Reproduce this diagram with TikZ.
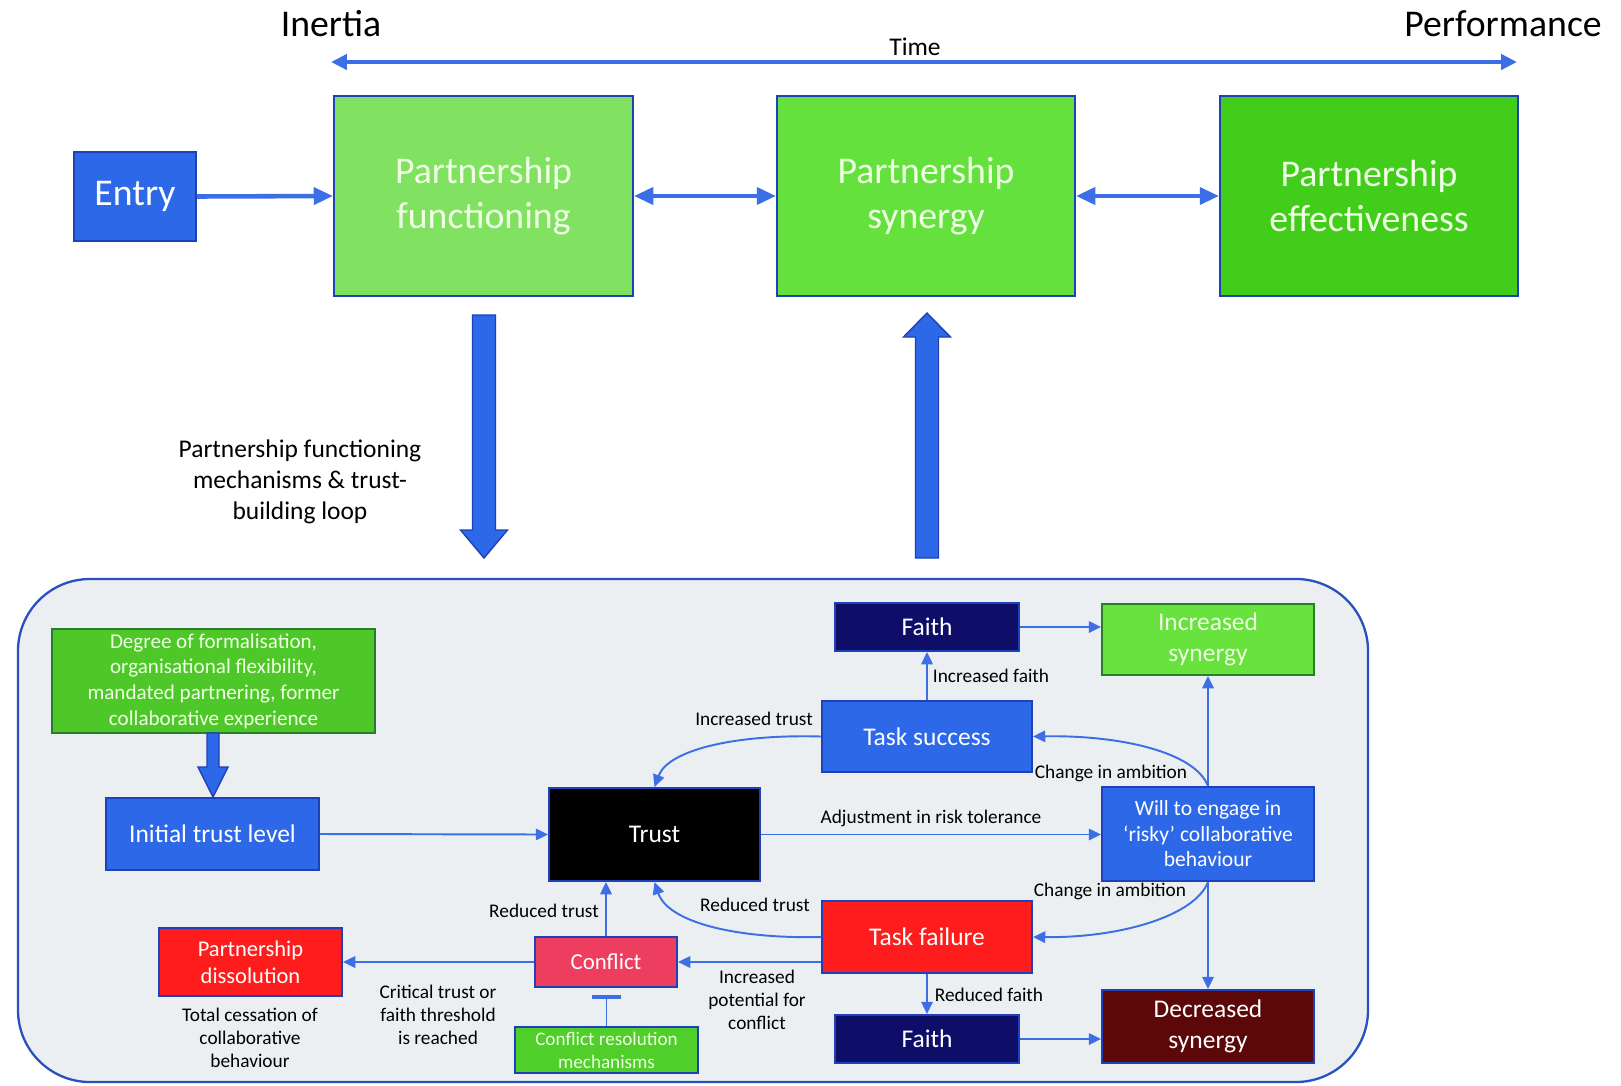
\documentclass[tikz,border=0pt]{standalone}
\usepackage{fontspec}
\setmainfont{Carlito}
\usetikzlibrary{arrows.meta,calc}
\definecolor{bfill}{RGB}{45,104,232}
\definecolor{bdraw}{RGB}{30,65,185}
\definecolor{lblue}{RGB}{60,110,230}
\definecolor{navyc}{RGB}{14,14,105}
\definecolor{maroonc}{RGB}{92,8,8}
\definecolor{bred}{RGB}{255,28,28}
\definecolor{pinkc}{RGB}{238,62,96}
\definecolor{gA}{RGB}{128,226,96}
\definecolor{gB}{RGB}{100,225,60}
\definecolor{gC}{RGB}{66,205,26}
\definecolor{gD}{RGB}{78,200,40}
\definecolor{gE}{RGB}{104,226,60}
\definecolor{gF}{RGB}{80,206,42}
\definecolor{gborder}{RGB}{40,125,40}
\definecolor{panelc}{RGB}{236,239,241}
\definecolor{pborder}{RGB}{40,80,190}
\definecolor{ltext}{RGB}{238,255,228}
\newcommand\fsBig{\fontsize{21.5pt}{26pt}\selectfont}
\newcommand\fsMid{\fontsize{14.5pt}{17.5pt}\selectfont}
\newcommand\fsSyn{\fontsize{14.5pt}{17.8pt}\selectfont}
\newcommand\fsWill{\fontsize{12.3pt}{14.5pt}\selectfont}
\newcommand\fsDeg{\fontsize{12pt}{14.6pt}\selectfont}
\newcommand\fsDis{\fontsize{12.8pt}{15.3pt}\selectfont}
\newcommand\fsCon{\fontsize{13pt}{15pt}\selectfont}
\newcommand\fsRes{\fontsize{10.9pt}{13pt}\selectfont}
\newcommand\fsLab{\fontsize{11pt}{13.2pt}\selectfont}
\tikzset{
  box/.style={draw=bdraw, line width=1.1pt, inner sep=2pt, align=center, text=white},
  gbox/.style={box, draw=gborder, text=ltext},
  topbox/.style={box, draw=bdraw, text=ltext, font=\fsBig},
  lab/.style={font=\fsLab, align=center, text=black, inner sep=0pt},
  conn/.style={draw=lblue, line width=1.1pt, -{Triangle[length=7pt,width=6.5pt]}},
  topconn/.style={draw=lblue, line width=2.6pt, -{Triangle[length=11pt,width=9.5pt]}},
  topdbl/.style={draw=lblue, line width=2.6pt, {Triangle[length=11pt,width=9.5pt]}-{Triangle[length=11pt,width=9.5pt]}},
  timearr/.style={draw=lblue, line width=2.3pt, {Triangle[length=9pt,width=8.5pt]}-{Triangle[length=9pt,width=8.5pt]}},
  blockarr/.style={fill=bfill, draw=bdraw, line width=0.8pt},
}
\begin{document}
\begin{tikzpicture}[x=0.02cm, y=-0.02cm]
\useasboundingbox (0,0) rectangle (1621,1085);
\fill[white] (0,0) rectangle (1621,1085);

% top labels
\node[font=\fsBig, inner sep=0pt] (inertia) at (331,24) {Inertia};
\node[font=\fsBig, inner sep=0pt] (perf) at (1503,24) {Performance};
\node[font=\fsMid, inner sep=0pt] (time) at (915,47) {Time};
\coordinate (tl) at (331,62);
\coordinate (tr) at (1517,62);
\draw[timearr] (tl) -- (tr);

% top boxes
\node[box, fill=bfill, font=\fsBig, minimum width=2.44cm, minimum height=1.78cm] (entry) at (135,196.5) {Entry};
\node[topbox, fill=gA, minimum width=5.98cm, minimum height=4cm] (func) at (483.5,196) {Partnership\\functioning};
\node[topbox, fill=gB, minimum width=5.96cm, minimum height=4cm] (syn) at (926,196) {Partnership\\synergy};
\node[topbox, fill=gC, minimum width=5.96cm, minimum height=4cm] (eff) at (1369,196) {Partnership\\effectiveness};
\draw[topconn] (entry.east) -- (func.west);
\draw[topdbl] (func.east) -- (syn.west);
\draw[topdbl] (syn.east) -- (eff.west);

% block arrows
\draw[blockarr] (472.5,315) -- (495.5,315) -- (495.5,530) -- (507.5,530) -- (484,558) -- (460.5,530) -- (472.5,530) -- cycle;
\draw[blockarr] (915.5,558) -- (938.5,558) -- (938.5,337) -- (950.5,337) -- (927,313) -- (903.5,337) -- (915.5,337) -- cycle;
\node[font=\fsMid, align=center, inner sep=0pt] (looplab) at (300,482) {Partnership functioning\\mechanisms \& trust-\\building loop};

% panel
\draw[pborder, fill=panelc, line width=1.3pt, rounded corners=1.44cm] (18,579) rectangle (1368,1082);

% lower nodes
\node[gbox, fill=gD, font=\fsDeg, minimum width=6.46cm, minimum height=2.08cm] (degree) at (213.5,681) {Degree of formalisation,\\organisational flexibility,\\mandated partnering, former\\collaborative experience};
\node[box, fill=bfill, font=\fsMid, minimum width=4.26cm, minimum height=1.44cm] (init) at (212.5,834) {Initial trust level};
\node[box, fill=black, font=\fsMid, minimum width=4.22cm, minimum height=1.86cm] (trust) at (654.5,834.5) {Trust};
\node[box, fill=bfill, font=\fsMid, minimum width=4.2cm, minimum height=1.42cm] (tsucc) at (927,736.5) {Task success};
\node[box, fill=navyc, font=\fsMid, minimum width=3.68cm, minimum height=0.96cm] (faithA) at (927,627) {Faith};
\node[gbox, fill=gE, font=\fsSyn, minimum width=4.24cm, minimum height=1.42cm] (incsyn) at (1208,639.5) {Increased\\synergy};
\node[box, fill=bfill, font=\fsWill, minimum width=4.24cm, minimum height=1.88cm] (will) at (1208,834) {Will to engage in\\‘risky’ collaborative\\behaviour};
\node[box, fill=bred, font=\fsMid, minimum width=4.2cm, minimum height=1.44cm] (tfail) at (927,937) {Task failure};
\node[box, fill=navyc, font=\fsMid, minimum width=3.68cm, minimum height=0.96cm] (faithB) at (927,1039) {Faith};
\node[box, fill=maroonc, font=\fsSyn, minimum width=4.24cm, minimum height=1.46cm] (decsyn) at (1208,1026.5) {Decreased\\synergy};
\node[box, fill=pinkc, font=\fsCon, minimum width=2.84cm, minimum height=1.0cm] (conflict) at (606,962) {Conflict};
\node[box, fill=bred, font=\fsDis, minimum width=3.66cm, minimum height=1.36cm] (dissol) at (250.5,962) {Partnership\\dissolution};
\node[gbox, draw=bdraw, fill=gF, font=\fsRes, minimum width=3.66cm, minimum height=0.92cm] (conres) at (606.5,1050) {Conflict resolution\\mechanisms};

% block arrow degree -> initial
\draw[blockarr] (207,733) -- (219,733) -- (219,767) -- (228,767) -- (213,797) -- (198,767) -- (207,767) -- cycle;

% connectors
\draw[conn] (init.east) -- (trust.west);
\draw[conn] (trust.east) -- (will.west |- trust.east);
\draw[conn] (tsucc.north) -- (faithA.south);
\draw[conn] (faithA.east) -- (incsyn.west |- faithA.east);
\draw[conn] (will.north) -- (incsyn.south);
\draw[conn] (will.south) -- (decsyn.north);
\draw[conn] (tfail.south) -- (faithB.north);
\draw[conn] (faithB.east) -- (decsyn.west |- faithB.east);
\draw[conn] (will.north) .. controls (1195,752) and (1120,735) .. (tsucc.east);
\draw[conn] (will.south) .. controls (1195,916) and (1120,938) .. (tfail.east);
\draw[conn] (tsucc.west) .. controls (735,734) and (668,750) .. (trust.north);
\draw[conn] (tfail.west) .. controls (735,939) and (668,922) .. (trust.south);
\draw[conn] (tfail.west |- conflict.east) -- (conflict.east);
\draw[conn] (conflict.north) -- (conflict.north |- trust.south);
\draw[conn] (conflict.west) -- (dissol.east);
\coordinate (tbar) at ($(conres.north)+(0,-29)$);
\draw[lblue, line width=1.1pt] (conres.north) -- (tbar);
\draw[lblue, line width=1.8pt] ($(tbar)+(-14.5,0)$) -- ($(tbar)+(14.5,0)$);

% labels
\node[lab] (l1) at (991,676) {Increased faith};
\node[lab] (l2) at (754,719) {Increased trust};
\node[lab] (l3) at (1111,773) {Change in ambition};
\node[lab] (l4) at (931,818) {Adjustment in risk tolerance};
\node[lab] (l5) at (1110,891) {Change in ambition};
\node[lab] (l6) at (755,905) {Reduced trust};
\node[lab] (l7) at (544,911) {Reduced trust};
\node[lab] (l8) at (757,1000) {Increased\\potential for\\conflict};
\node[lab] (l9) at (989,995) {Reduced faith};
\node[lab] (l10) at (438,1015) {Critical trust or\\faith threshold\\is reached};
\node[lab] (l11) at (250,1038) {Total cessation of\\collaborative\\behaviour};
\end{tikzpicture}
\end{document}
